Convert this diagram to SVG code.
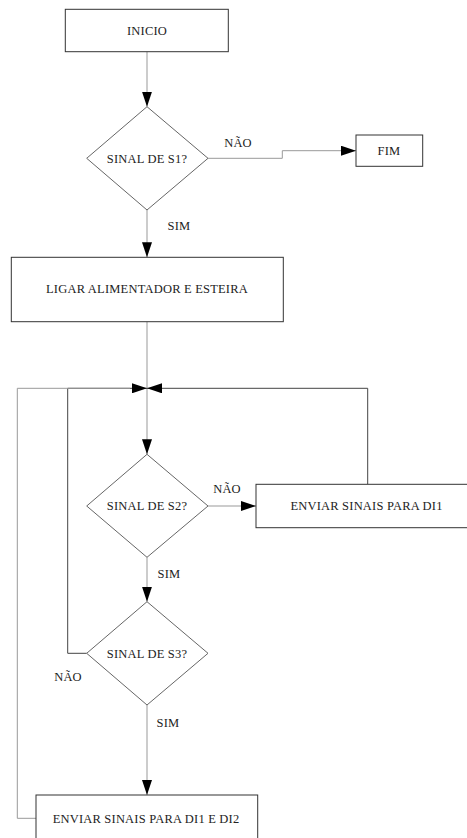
<svg xmlns="http://www.w3.org/2000/svg" width="467" height="838" viewBox="0 0 467 838">
  <style>
    .box { fill: #ffffff; stroke: #333333; stroke-width: 1; }
    .dec { fill: #ffffff; stroke: #666666; stroke-width: 1; }
    .lbl { font-family: 'Liberation Serif', Lato, serif; font-size: 12.5px; letter-spacing: 0.2px; fill: #222222; text-anchor: middle; }
    .flow { fill: none; stroke: #999999; stroke-width: 1; }
    .loop { fill: none; stroke: #444444; stroke-width: 1; }
  </style>
  <defs>
    <marker id="arrow" markerUnits="userSpaceOnUse" markerWidth="15" markerHeight="10" refX="15" refY="5" orient="auto">
      <path d="M0,0 L15,5 L0,10 Z" fill="#000000"/>
    </marker>
  </defs>
  <rect width="467" height="838" fill="#ffffff"/>

  <g id="connectors">
    <!-- main vertical flow -->
    <path class="flow" d="M147,51.7 V106.7" marker-end="url(#arrow)"/>
    <path class="flow" d="M147,210 V257.3" marker-end="url(#arrow)"/>
    <path class="flow" d="M208,158.3 H282.3 V150.7 H356" marker-end="url(#arrow)"/>
    <path class="flow" d="M147,321.7 V454.3" marker-end="url(#arrow)"/>
    <path class="flow" d="M208,506 H256" marker-end="url(#arrow)"/>
    <path class="flow" d="M147,557.3 V601.7" marker-end="url(#arrow)"/>
    <path class="flow" d="M147,705 V795" marker-end="url(#arrow)"/>
    <!-- return loops into the junction -->
    <path class="loop" d="M367.7,484.3 V388.3 H147" marker-end="url(#arrow)"/>
    <path class="loop" d="M86.7,653.3 H67.7 V388.3 H147" marker-end="url(#arrow)"/>
    <path class="flow" d="M36,818.3 H17.3 V388.3 H130"/>
    <!-- branch labels -->
    <text class="lbl" x="238" y="146.5">NÃO</text>
    <text class="lbl" x="179" y="230">SIM</text>
    <text class="lbl" x="227" y="493.3">NÃO</text>
    <text class="lbl" x="169" y="577.5">SIM</text>
    <text class="lbl" x="68" y="680.5">NÃO</text>
    <text class="lbl" x="168" y="727">SIM</text>
  </g>

  <g id="inicio">
    <rect class="box" x="65.3" y="9.3" width="163" height="42.4"/>
    <text class="lbl" x="147" y="34.6">INICIO</text>
  </g>

  <g id="sinal-s1">
    <polygon class="dec" points="147,106.7 208,158.3 147,210 86.7,158.3"/>
    <text class="lbl" x="147" y="162.5">SINAL DE S1?</text>
  </g>

  <g id="fim">
    <rect class="box" x="356" y="135" width="66.7" height="31.3"/>
    <text class="lbl" x="389" y="155.3">FIM</text>
  </g>

  <g id="ligar">
    <rect class="box" x="11.3" y="257.3" width="272" height="64.4"/>
    <text class="lbl" x="147" y="292.5">LIGAR ALIMENTADOR E ESTEIRA</text>
  </g>

  <g id="sinal-s2">
    <polygon class="dec" points="147,454.3 208,506 147,557.3 86.7,506"/>
    <text class="lbl" x="147" y="510">SINAL DE S2?</text>
  </g>

  <g id="enviar-di1">
    <rect class="box" x="256" y="484.3" width="224" height="43.4"/>
    <text class="lbl" x="366.5" y="509.8">ENVIAR SINAIS PARA DI1</text>
  </g>

  <g id="sinal-s3">
    <polygon class="dec" points="147,601.7 208,653.3 147,705 86.7,653.3"/>
    <text class="lbl" x="147" y="657.5">SINAL DE S3?</text>
  </g>

  <g id="enviar-di1-di2">
    <rect class="box" x="36" y="795" width="221.7" height="50"/>
    <text class="lbl" x="146" y="822.5">ENVIAR SINAIS PARA DI1 E DI2</text>
  </g>
</svg>
